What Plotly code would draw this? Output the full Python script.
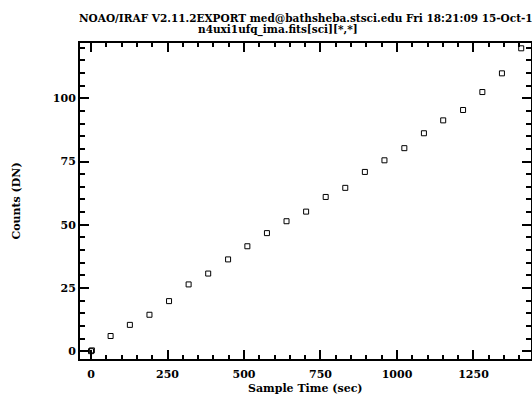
import plotly.graph_objects as go

# Data
sample_time = [0, 2.9, 64, 127, 191, 255, 319, 383, 448, 511, 575, 639, 703,
               767, 831, 895, 959, 1024, 1088, 1151, 1216, 1279, 1343, 1406]
counts = [0, 0.3, 6.0, 10.4, 14.4, 19.8, 26.4, 30.7, 36.3, 41.5, 46.7, 51.4, 55.2,
          61.0, 64.6, 70.9, 75.5, 80.3, 86.2, 91.3, 95.4, 102.5, 109.9, 119.8]

title_line1 = "NOAO/IRAF V2.11.2EXPORT med@bathsheba.stsci.edu Fri 18:21:09 15-Oct-1"
title_line2 = "n4uxi1ufq_ima.fits[sci][*,*]"
x_label = "Sample Time (sec)"
y_label = "Counts (DN)"

FONT = "DejaVu Serif"

fig = go.Figure()
fig.add_trace(go.Scatter(
    x=sample_time, y=counts, mode="markers",
    marker=dict(symbol="square-open", size=5, color="black", line=dict(width=1, color="black")),
    showlegend=False, cliponaxis=False,
))

axis_common = dict(
    showgrid=False, zeroline=False, showline=True, linecolor="black", linewidth=2,
    mirror="allticks", ticks="inside", ticklen=9, tickwidth=2, tickcolor="black",
    tickfont=dict(family=FONT, size=11, color="black", weight="bold"),
    automargin=False,
)

fig.update_xaxes(
    range=[-36, 1438], tick0=0, dtick=250, ticklabelstandoff=4,
    minor=dict(dtick=50, ticks="inside", ticklen=4, tickwidth=1.5, tickcolor="black"),
    **axis_common,
)
fig.update_yaxes(
    range=[-3.1, 121.9], tick0=0, dtick=25,
    minor=dict(dtick=5, ticks="inside", ticklen=5, tickwidth=1.5, tickcolor="black"),
    title=dict(text=y_label, font=dict(family=FONT, size=11, color="black", weight="bold"), standoff=30),
    **axis_common,
)

fig.add_annotation(text=x_label, xref="paper", yref="paper", x=0.5, y=0.0,
                   xanchor="center", yanchor="top", yshift=-21, showarrow=False,
                   font=dict(family=FONT, size=11, color="black", weight="bold"))
fig.add_annotation(text=title_line1, xref="paper", yref="paper", x=0.5, y=1.0,
                   xanchor="center", yanchor="bottom", yshift=17, showarrow=False,
                   font=dict(family=FONT, size=10.5, color="black", weight="bold"))
fig.add_annotation(text=title_line2, xref="paper", yref="paper", x=0.44, y=1.0,
                   xanchor="center", yanchor="bottom", yshift=4, showarrow=False,
                   font=dict(family=FONT, size=10.5, color="black", weight="bold"))

fig.update_layout(
    width=532, height=394,
    margin=dict(l=80, r=1, t=43, b=35),
    paper_bgcolor="white", plot_bgcolor="white",
)

fig.write_html("out.html")
